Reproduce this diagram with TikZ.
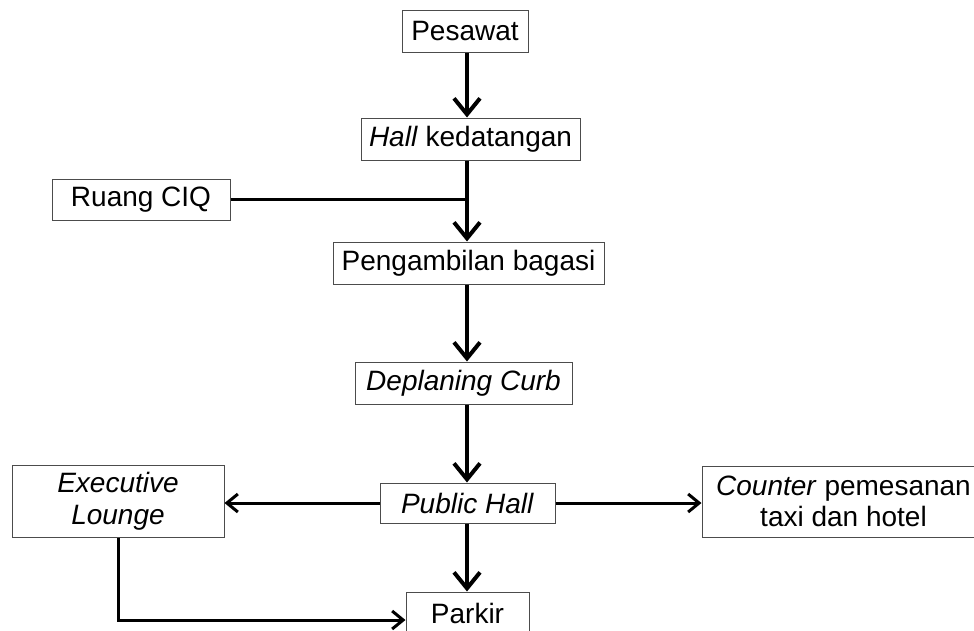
\documentclass[tikz,border=0pt]{standalone}
\usepackage{fontspec}
\setmainfont{Liberation Sans}
\usetikzlibrary{arrows.meta}
\tikzset{kotak/.style={draw=black!70, line width=1pt, inner sep=0pt, align=center,
    font=\fontsize{28}{31.5}\selectfont}}
\tikzset{panah/.style={line width=4pt, -{Straight Barb[length=16pt,width=26pt]}}}
\tikzset{panahkecil/.style={line width=3pt, -{Straight Barb[length=11pt,width=18pt]}}}
\tikzset{garis/.style={line width=3pt}}

\begin{document}
\begin{tikzpicture}[x=1pt,y=-1pt]
    \useasboundingbox (0,0) rectangle (974,630);
    \node[kotak, minimum width=126pt, minimum height=42pt] (pesawat) at (465,31) {Pesawat};
    \node[kotak, minimum width=219pt, minimum height=42pt] (hall) at (470.5,139) {\textit{Hall} kedatangan};
    \node[kotak, minimum width=178pt, minimum height=41pt] (ciq) at (141,199.5) {Ruang CIQ};
    \node[kotak, minimum width=271pt, minimum height=42pt] (bagasi) at (468.5,263) {Pengambilan bagasi};
    \node[kotak, minimum width=217pt, minimum height=42pt] (curb) at (463.5,383) {\textit{Deplaning Curb}};
    \node[kotak, minimum width=175pt, minimum height=40pt] (public) at (467.5,503) {\textit{Public Hall}};
    \node[kotak, minimum width=212pt, minimum height=72pt] (lounge) at (118,501) {\textit{Executive}\\\textit{Lounge}};
    \node[kotak, minimum width=283pt, minimum height=71pt] (counter) at (843.5,501.5) {\textit{Counter} pemesanan\\taxi dan hotel};
    \node[kotak, minimum width=123pt, minimum height=42pt] (parkir) at (467.5,613) {Parkir};
    \coordinate (spine) at (467,0);
    \coordinate (belok) at (118,620);
    \draw [panah] (pesawat.south -| spine) -- (hall.north -| spine);
    \draw [garis] (ciq.east) -- (ciq.east -| spine);
    \draw [panah] (hall.south -| spine) -- (bagasi.north -| spine);
    \draw [panah] (bagasi.south -| spine) -- (curb.north -| spine);
    \draw [panah] (curb.south -| spine) -- (public.north -| spine);
    \draw [panah] (public.south -| spine) -- (parkir.north -| spine);
    \draw [panahkecil] (public.west) -- (lounge.east |- public.west);
    \draw [panahkecil] (public.east) -- (counter.west |- public.east);
    \draw [panahkecil] (lounge.south) -- (belok) -- (belok -| parkir.west);
\end{tikzpicture}
\end{document}
